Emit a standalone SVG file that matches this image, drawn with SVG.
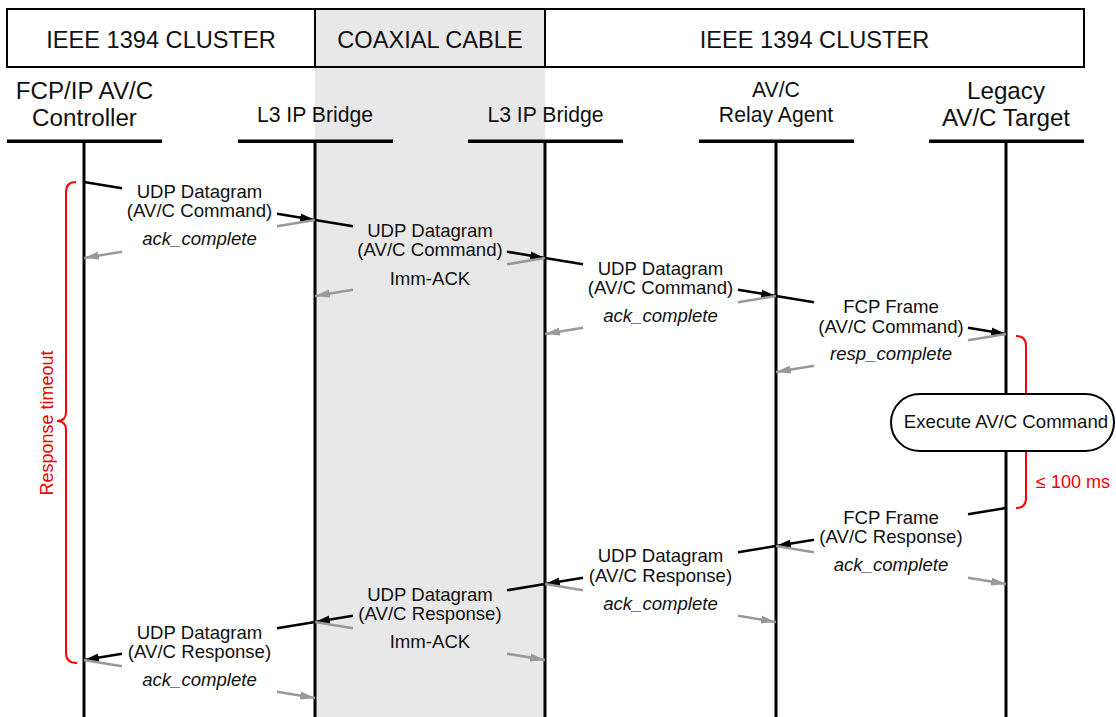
<svg xmlns="http://www.w3.org/2000/svg" width="1116" height="717" viewBox="0 0 1116 717">
<style>
text{font-family:"Liberation Sans",Arial,sans-serif;fill:#111;text-anchor:middle}
.hd{font-size:23.6px}
.lb{font-size:24.2px}
.ls{font-size:21.2px}
.m{font-size:18.6px}
.i{font-size:18.6px;font-style:italic}
.red{fill:#e00;font-size:18px}
.bar{fill:#000}
.life{stroke:#000;stroke-width:3;fill:none}
.msg{stroke:#000;stroke-width:2.5;fill:none}
.ack{stroke:#999;stroke-width:2.5;fill:none}
.brace{stroke:#f00;stroke-width:2;fill:none}
</style>
<defs>
<marker id="ab" markerUnits="userSpaceOnUse" markerWidth="16" markerHeight="10" refX="15" refY="5" orient="auto"><path d="M0,1 L15,5 L0,9 Z" fill="#000"/></marker>
<marker id="ag" markerUnits="userSpaceOnUse" markerWidth="16" markerHeight="10" refX="15" refY="5" orient="auto"><path d="M0,1 L15,5 L0,9 Z" fill="#999"/></marker>
</defs>
<rect x="0" y="0" width="1116" height="717" fill="#fff"/>
<rect x="315" y="9" width="230" height="708" fill="#e8e8e8"/>

<g id="header">
<g id="hdr-cluster-left"><rect x="7" y="9" width="308" height="58" fill="none" stroke="#000" stroke-width="2"/><text class="hd" x="161" y="48">IEEE 1394 CLUSTER</text></g>
<g id="hdr-coax"><rect x="315" y="9" width="230" height="58" fill="#e8e8e8" stroke="#000" stroke-width="2"/><text class="hd" x="430" y="48">COAXIAL CABLE</text></g>
<g id="hdr-cluster-right"><rect x="545" y="9" width="539" height="58" fill="none" stroke="#000" stroke-width="2"/><text class="hd" x="814.5" y="48">IEEE 1394 CLUSTER</text></g>
</g>

<g id="controller">
<text class="lb" x="84.5" y="99">FCP/IP AV/C</text><text class="lb" x="84.5" y="126">Controller</text>
<rect class="bar" x="7" y="139.5" width="155" height="3.5"/>
<line class="life" x1="84" y1="143" x2="84" y2="717"/>
</g>
<g id="bridge1">
<text class="ls" x="315" y="122">L3 IP Bridge</text>
<rect class="bar" x="238" y="139.5" width="155" height="3.5"/>
<line class="life" x1="315" y1="143" x2="315" y2="717"/>
</g>
<g id="bridge2">
<text class="ls" x="545.5" y="122">L3 IP Bridge</text>
<rect class="bar" x="468" y="139.5" width="155" height="3.5"/>
<line class="life" x1="545" y1="143" x2="545" y2="717"/>
</g>
<g id="relay">
<text class="ls" x="776" y="97">AV/C</text><text class="ls" x="776" y="122">Relay Agent</text>
<rect class="bar" x="699" y="139.5" width="155" height="3.5"/>
<line class="life" x1="776" y1="143" x2="776" y2="717"/>
</g>
<g id="target">
<text class="lb" x="1006" y="99">Legacy</text><text class="lb" x="1006" y="126">AV/C Target</text>
<rect class="bar" x="929" y="139.5" width="155" height="3.5"/>
<line class="life" x1="1006" y1="143" x2="1006" y2="717"/>
</g>

<g id="connectors">
<!-- 1 -->
<line class="msg" x1="84" y1="182" x2="122" y2="188.3"/>
<line class="msg" x1="277" y1="213.7" x2="315" y2="220" marker-end="url(#ab)"/>
<line class="ack" x1="315" y1="220" x2="277" y2="226.3"/>
<line class="ack" x1="122" y1="251.7" x2="84" y2="258" marker-end="url(#ag)"/>
<!-- 2 -->
<line class="msg" x1="315" y1="220" x2="353" y2="226.3"/>
<line class="msg" x1="507" y1="251.7" x2="545" y2="258" marker-end="url(#ab)"/>
<line class="ack" x1="545" y1="258" x2="507" y2="264.3"/>
<line class="ack" x1="353" y1="289.7" x2="315" y2="296" marker-end="url(#ag)"/>
<!-- 3 -->
<line class="msg" x1="545" y1="258" x2="583" y2="264.3"/>
<line class="msg" x1="738" y1="289.7" x2="776" y2="296" marker-end="url(#ab)"/>
<line class="ack" x1="776" y1="296" x2="738" y2="302.3"/>
<line class="ack" x1="583" y1="327.7" x2="545" y2="334" marker-end="url(#ag)"/>
<!-- 4 -->
<line class="msg" x1="776" y1="296" x2="814" y2="302.3"/>
<line class="msg" x1="968" y1="327.7" x2="1006" y2="334" marker-end="url(#ab)"/>
<line class="ack" x1="1006" y1="334" x2="968" y2="340.3"/>
<line class="ack" x1="814" y1="365.7" x2="776" y2="372" marker-end="url(#ag)"/>
<!-- 5 -->
<line class="msg" x1="1006" y1="508" x2="968" y2="514.3"/>
<line class="msg" x1="814" y1="539.7" x2="776" y2="546" marker-end="url(#ab)"/>
<line class="ack" x1="776" y1="546" x2="814" y2="552.3"/>
<line class="ack" x1="968" y1="577.7" x2="1006" y2="584" marker-end="url(#ag)"/>
<!-- 6 -->
<line class="msg" x1="776" y1="546" x2="738" y2="552.3"/>
<line class="msg" x1="583" y1="577.7" x2="545" y2="584" marker-end="url(#ab)"/>
<line class="ack" x1="545" y1="584" x2="583" y2="590.3"/>
<line class="ack" x1="738" y1="615.7" x2="776" y2="622" marker-end="url(#ag)"/>
<!-- 7 -->
<line class="msg" x1="545" y1="584" x2="507" y2="590.3"/>
<line class="msg" x1="353" y1="615.7" x2="315" y2="622" marker-end="url(#ab)"/>
<line class="ack" x1="315" y1="622" x2="353" y2="628.3"/>
<line class="ack" x1="507" y1="653.7" x2="545" y2="660" marker-end="url(#ag)"/>
<!-- 8 -->
<line class="msg" x1="315" y1="622" x2="277" y2="628.3"/>
<line class="msg" x1="122" y1="653.7" x2="84" y2="660" marker-end="url(#ab)"/>
<line class="ack" x1="84" y1="660" x2="122" y2="666.3"/>
<line class="ack" x1="277" y1="691.7" x2="315" y2="698" marker-end="url(#ag)"/>
</g>

<g id="labels">
<text class="m" x="199.5" y="198">UDP Datagram</text><text class="m" x="199.5" y="217">(AV/C Command)</text><text class="i" x="199.5" y="245">ack_complete</text>
<text class="m" x="430" y="237">UDP Datagram</text><text class="m" x="430" y="256">(AV/C Command)</text><text class="m" x="430" y="285">Imm-ACK</text>
<text class="m" x="660.5" y="275">UDP Datagram</text><text class="m" x="660.5" y="294">(AV/C Command)</text><text class="i" x="660.5" y="322">ack_complete</text>
<text class="m" x="891" y="313">FCP Frame</text><text class="m" x="891" y="333">(AV/C Command)</text><text class="i" x="891" y="360">resp_complete</text>
<text class="m" x="891" y="524">FCP Frame</text><text class="m" x="891" y="543">(AV/C Response)</text><text class="i" x="891" y="571">ack_complete</text>
<text class="m" x="660.5" y="562">UDP Datagram</text><text class="m" x="660.5" y="582">(AV/C Response)</text><text class="i" x="660.5" y="610">ack_complete</text>
<text class="m" x="430" y="601">UDP Datagram</text><text class="m" x="430" y="620">(AV/C Response)</text><text class="m" x="430" y="648">Imm-ACK</text>
<text class="m" x="199.5" y="639">UDP Datagram</text><text class="m" x="199.5" y="658">(AV/C Response)</text><text class="i" x="199.5" y="686">ack_complete</text>
</g>

<g id="response-timeout">
<path class="brace" d="M76,182 Q66,182 66,192 L66,412 Q66,421 57,421 Q66,421 66,430 L66,653 Q66,663 77,663"/>
<text class="red" transform="translate(53,423) rotate(-90)">Response timeout</text>
</g>

<g id="exec-window">
<path class="brace" d="M1016,336 Q1026,336 1026,346 L1026,412 Q1026,421 1035,421 Q1026,421 1026,430 L1026,498 Q1026,508 1016,508"/>
<text class="red" x="1036" y="488" style="text-anchor:start">≤ 100 ms</text>
</g>

<g id="execute">
<rect x="891" y="394" width="223" height="57" rx="28.5" ry="28.5" fill="#fff" stroke="#000" stroke-width="2"/>
<text class="m" x="1006" y="428">Execute AV/C Command</text>
</g>
</svg>
